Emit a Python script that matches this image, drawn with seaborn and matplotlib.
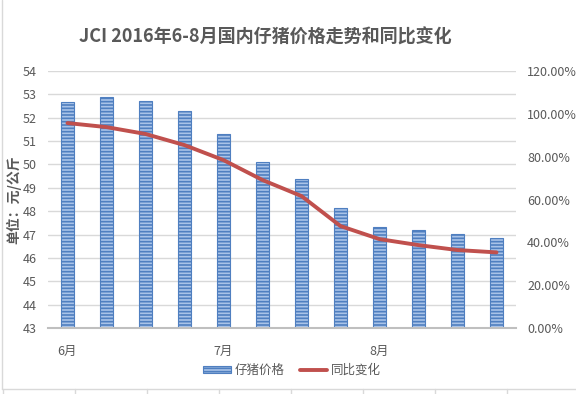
import numpy as np
import pandas as pd
import matplotlib
matplotlib.use("Agg")
import matplotlib.pyplot as plt
from matplotlib.lines import Line2D
from matplotlib.patches import Patch
from matplotlib.ticker import PercentFormatter
import seaborn as sns

# 周数据（6-8月）
weeks = ["6月", "", "", "", "7月", "", "", "", "8月", "", "", ""]
price = [52.67, 52.89, 52.72, 52.29, 51.30, 50.10, 49.38, 48.14, 47.32, 47.20, 47.02, 46.85]
yoy = [0.957, 0.938, 0.906, 0.854, 0.784, 0.691, 0.616, 0.476, 0.415, 0.387, 0.364, 0.353]

sns.set_theme(style="white")
plt.rcParams["font.family"] = ["Noto Sans CJK SC", "DejaVu Sans"]
plt.rcParams["hatch.linewidth"] = 1.2

df = pd.DataFrame({"week": range(len(price)), "price": price, "yoy": yoy})

grey = "#595959"
bar_face = "#a9c3e8"
bar_edge = "#4f7fc0"
line_col = "#c0504d"

fig = plt.figure(figsize=(5.76, 3.94), dpi=100)
ax = fig.add_axes([48 / 576, 1 - 328 / 394, 468 / 576, 257 / 394])

sns.barplot(data=df, x="week", y="price", ax=ax, color=bar_face, width=0.31,
            saturation=1, zorder=2)
for p in ax.patches:
    p.set_hatch("-----")
    p.set_edgecolor(bar_edge)
    p.set_linewidth(0.8)

ax.set_ylim(43, 54)
ax.set_yticks(range(43, 55))
ax.set_xlim(-0.5, len(price) - 0.5)
ax.set_xticks(range(len(weeks)))
ax.set_xticklabels(weeks)
ax.set_xlabel("")
ax.set_ylabel("单位：元/公斤", color=grey, fontsize=10, fontweight="bold")
ax.yaxis.set_label_coords(-0.058, 0.5)
ax.grid(axis="y", color="#d9d9d9", linewidth=1, zorder=0)
ax.set_axisbelow(True)
ax.tick_params(axis="both", length=0, colors=grey, labelsize=9, pad=12)
ax.tick_params(axis="y", pad=8)
for s in ["top", "right", "left"]:
    ax.spines[s].set_visible(False)
ax.spines["bottom"].set_color("#bfbfbf")
ax.spines["bottom"].set_linewidth(1.5)

ax2 = ax.twinx()
sns.lineplot(data=df, x="week", y="yoy", ax=ax2, color=line_col, linewidth=2.8, zorder=3)
ax2.set_ylim(0, 1.2)
ax2.set_yticks(np.arange(0, 1.21, 0.2))
ax2.yaxis.set_major_formatter(PercentFormatter(1.0, decimals=2))
ax2.set_ylabel("")
ax2.tick_params(axis="y", length=0, colors=grey, labelsize=9, pad=8)
for s in ax2.spines.values():
    s.set_visible(False)

fig.text(265 / 576, 1 - 37 / 394, "JCI 2016年6-8月国内仔猪价格走势和同比变化",
         ha="center", va="center", fontsize=13, fontweight="bold", color=grey)

handles = [Patch(facecolor=bar_face, edgecolor=bar_edge, hatch="-----", linewidth=0.8),
           Line2D([0], [0], color=line_col, linewidth=2.8)]
fig.legend(handles, ["仔猪价格", "同比变化"], loc="center", bbox_to_anchor=(292 / 576, 1 - 370 / 394),
           ncol=2, frameon=False, fontsize=9, labelcolor=grey, handlelength=2.2,
           handleheight=0.5, columnspacing=1.2, handletextpad=0.3)

# 表格边框
fig.add_artist(Line2D([2 / 576, 2 / 576], [1 - 389 / 394, 1], color="#d9d9d9", linewidth=1))
fig.add_artist(Line2D([2 / 576, 1], [1 - 389 / 394, 1 - 389 / 394], color="#d9d9d9", linewidth=1))
for gx in range(3, 576, 72):
    fig.add_artist(Line2D([gx / 576, gx / 576], [0, 1 - 389 / 394], color="#d9d9d9", linewidth=1))

fig.savefig("out.png", dpi=100)
